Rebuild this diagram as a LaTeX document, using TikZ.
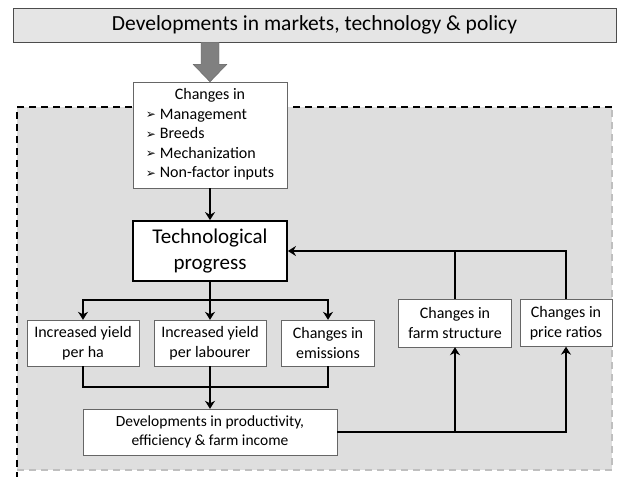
\documentclass[tikz,border=0pt]{standalone}
\usepackage{fontspec}
\setmainfont{Carlito}
\newfontfamily\dejavu{DejaVu Sans}
\usepackage{tikz}
\usetikzlibrary{arrows.meta, positioning, calc}
\definecolor{panel}{gray}{0.87}
\definecolor{banner}{gray}{0.90}
\definecolor{fatarrow}{gray}{0.50}
\newcommand{\bul}{\raisebox{0.5pt}{\dejavu\fontsize{12}{12}\selectfont ➢}\hspace{4pt}}

\begin{document}
\begin{tikzpicture}[
    x=1pt, y=-1pt,
    banner/.style={draw=black!70, fill=banner, minimum width=603, minimum height=34,
        inner sep=0pt, font=\fontsize{21.5}{24}\selectfont},
    box/.style={draw=black!60, fill=white, align=center, inner sep=0pt,
        font=\fontsize{16}{19.5}\selectfont},
    techbox/.style={draw, line width=1.8pt, fill=white, align=center, inner sep=0pt,
        minimum width=154, minimum height=60, font=\fontsize{21}{26.5}\selectfont},
    line/.style={line width=1.8pt},
    link/.style={line width=1.8pt, -{Stealth[length=8pt,width=10pt]}}
]
\useasboundingbox (0,0) rectangle (619,477);
% grey panel with dashed frame
\fill[panel] (17,107) rectangle (612,470);
\draw[black!25, line width=1.2pt, dash pattern=on 7pt off 5pt] (17,470) -- (612,470) -- (612,107);
\draw[line width=2pt, dash pattern=on 7pt off 5pt] (612,107) -- (17,107) -- (17,477);

\node[banner] (market) at (314.5,25) {Developments in markets, technology \& policy};
\node[box, minimum width=154, minimum height=106] (changes) at (210,135) {%
    \begin{tabular}{@{}l@{}}
    \multicolumn{1}{@{}c@{}}{Changes in}\\
    \bul Management\\
    \bul Breeds\\
    \bul Mechanization\\
    \bul Non-factor inputs
    \end{tabular}};
\node[techbox] (tech) at (210,251) {Technological\\progress};
\node[box, minimum width=112, minimum height=46] (yha) at (83,343) {Increased yield\\per ha};
\node[box, minimum width=112, minimum height=46] (ylab) at (210,343) {Increased yield\\per labourer};
\node[box, minimum width=93, minimum height=46] (emis) at (328,343) {Changes in\\emissions};
\node[box, minimum width=113, minimum height=48] (struct) at (455,323) {Changes in\\farm structure};
\node[box, minimum width=92, minimum height=47] (price) at (566,323) {Changes in\\price ratios};
\node[box, minimum width=254, minimum height=46, font=\fontsize{15.5}{18.5}\selectfont] (dev) at (210,432)
    {Developments in productivity,\\efficiency \& farm income};

% fat grey arrow from the banner
\coordinate (fa) at (changes.north |- market.south);
\filldraw[fill=fatarrow, draw=black!60, line width=0.4pt]
    ($(fa)+(-9,0)$) -- ++(0,22) -- ++(-8,0) -- (changes.north) -- ($(fa)+(17,22)$)
    -- ++(-8,0) -- ($(fa)+(9,0)$) -- cycle;

\draw[link] (changes) -- (tech);
\coordinate (split) at (210,300);
\draw[line] (tech) -- (split);
\draw[link] (split) -| (yha.north);
\draw[link] (split) -| (emis.north);
\draw[link] (split) -- (ylab.north);

\coordinate (merge) at (210,387);
\draw[line] (yha.south) |- (merge) -| (emis.south);
\draw[link] (ylab) -- (dev);

\draw[link] (dev.east) -| (struct.south);
\draw[link] (dev.east) -| (price.south);
\draw[link] (price.north) |- (tech.east);
\draw[line] (struct.north) -- (struct.north |- tech.east);
\end{tikzpicture}
\end{document}
